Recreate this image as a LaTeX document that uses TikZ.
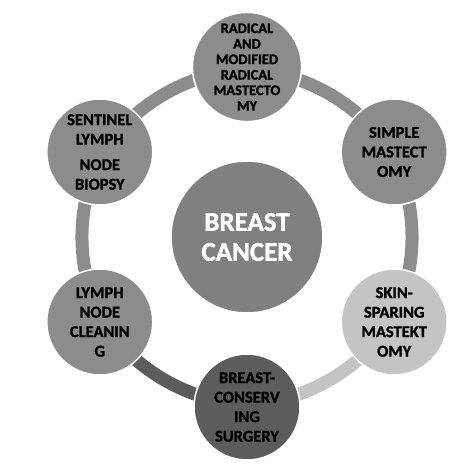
\documentclass[tikz,border=0pt]{standalone}
\usepackage{fontspec}
\setmainfont{Carlito}[BoldFeatures={FakeBold=1.5}]
\usetikzlibrary{shapes,backgrounds}
\definecolor{hubgray}{RGB}{128,128,128}
\definecolor{midgray}{RGB}{140,140,140}
\definecolor{lightgray}{RGB}{196,196,196}
\definecolor{darkgray}{RGB}{92,92,92}
\tikzstyle{topic} = [circle, draw=white, line width=1.5pt, fill=midgray,
minimum size=106pt, inner sep=0pt, align=center,
font=\bfseries\fontsize{16.5}{19.5}\selectfont]
\tikzstyle{hub} = [circle, draw=white, line width=1.5pt, fill=hubgray,
minimum size=152pt, inner sep=0pt, align=center, text=white,
font=\bfseries\fontsize{27}{30}\selectfont]
\tikzstyle{link} = [line width=13pt, draw=midgray, bend left=21]

\begin{document}
\begin{tikzpicture}[x=1pt, y=1pt]
	\useasboundingbox (-247,-237) rectangle (227,237);

	\node [hub] (cancer) at (0,0) {BREAST\\CANCER};
	\node [topic, font=\bfseries\fontsize{14.5}{15.5}\selectfont] (radical) at (90:170)
		{RADICAL\\AND\\MODIFIED\\RADICAL\\MASTECTO\\MY};
	\node [topic] (simple) at (30:170) {SIMPLE\\MASTECT\\OMY};
	\node [topic, fill=lightgray] (skin) at (-30:170) {SKIN-\\SPARING\\MASTEKT\\OMY};
	\node [topic, fill=darkgray] (conserving) at (-90:170) {BREAST-\\CONSERV\\ING\\SURGERY};
	\node [topic] (cleaning) at (210:170) {LYMPH\\NODE\\CLEANIN\\G};
	\node [topic] (sentinel) at (150:170) {SENTINEL\\LYMPH\\[6pt]NODE\\BIOPSY};

	\begin{pgfonlayer}{background}
	\draw [link] (radical.center) to (simple.center);
	\draw [link] (simple.center) to (skin.center);
	\draw [link, draw=lightgray] (skin.center) to (conserving.center);
	\draw [link, draw=darkgray] (conserving.center) to (cleaning.center);
	\draw [link] (cleaning.center) to (sentinel.center);
	\draw [link] (sentinel.center) to (radical.center);
	\end{pgfonlayer}

\end{tikzpicture}
\end{document}
